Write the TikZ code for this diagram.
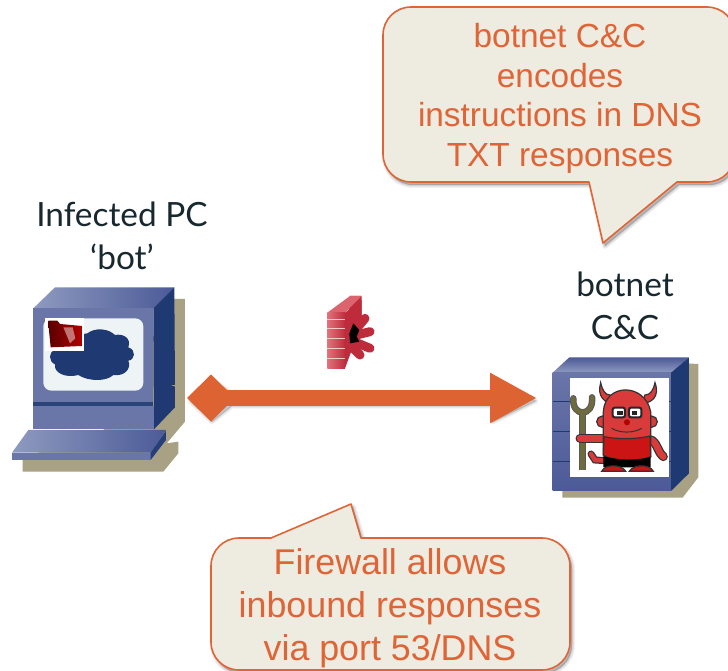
\documentclass[tikz,border=0pt]{standalone}
\usepackage{fontspec}
\setmainfont{Liberation Sans}
\newfontfamily\labelfont{Lato}
\usetikzlibrary{arrows.meta}
\definecolor{cfill}{HTML}{EEEBE0}
\definecolor{cline}{HTML}{DF6436}
\definecolor{ctext}{HTML}{DF6436}
\definecolor{tan}{HTML}{A8A184}
\definecolor{navy}{HTML}{1F3A72}
\definecolor{bluelt}{HTML}{8E9ABF}
\definecolor{bluemid}{HTML}{6A75A8}
\definecolor{bluedk}{HTML}{4C5A98}
\definecolor{screen}{HTML}{EEF3F6}
\definecolor{flow}{HTML}{DD6333}
\definecolor{devil}{HTML}{D93A3A}
\definecolor{shirt}{HTML}{CC1414}
\definecolor{forkc}{HTML}{6E6C3E}
\definecolor{labelc}{HTML}{17282F}
\definecolor{brickl}{HTML}{E2727A}
\definecolor{brickd}{HTML}{BE2C3C}
\def\toppath{(411,7) -- (707,7) .. controls (722.5,7) and (735,19.5) .. (735,35) -- (735,154) .. controls (735,169.5) and (722.5,182) .. (707,182) -- (677,182) -- (603,243) -- (589,182) -- (411,182) .. controls (395.5,182) and (383,169.5) .. (383,154) -- (383,35) .. controls (383,19.5) and (395.5,7) .. (411,7) -- cycle}
\def\botpath{(239,538) -- (271,538) -- (351,504) -- (361,538) -- (542,538) .. controls (557.5,538) and (570,550.5) .. (570,566) -- (570,642) .. controls (570,657.5) and (557.5,670) .. (542,670) -- (239,670) .. controls (223.5,670) and (211,657.5) .. (211,642) -- (211,566) .. controls (211,550.5) and (223.5,538) .. (239,538) -- cycle}
\def\arrowpath{(189,398) -- (211,376) -- (231,391) -- (492,391) -- (492,376) -- (535,398) -- (492,419) -- (492,403) -- (231,403) -- (211,419) -- cycle}
\tikzset{
 callout/.style={fill=cfill,draw=cline,line width=1.6pt,line join=round},
 softshadow/.style={fill=black,draw=black,opacity=.055,line join=round},
 calltext/.style={text=ctext,font=\fontsize{33.4}{39.7}\selectfont,align=center,inner sep=0pt},
 calltextb/.style={text=ctext,font=\fontsize{35.8}{43}\selectfont,align=center,inner sep=0pt},
 pclabel/.style={text=labelc,font=\labelfont\fontsize{33.4}{42.5}\selectfont,align=center,inner sep=0pt},
 flowline/.style={draw=flow,line width=16pt,{Diamond[length=48pt,width=47pt]}-{Triangle[length=47pt,width=47pt]}},
 devilpart/.style={fill=devil,draw=black!80,line width=1.2pt}
}
\begin{document}
\begin{tikzpicture}[x=1pt,y=-1pt]
\useasboundingbox (0,0) rectangle (728,671);
\clip (0,0) rectangle (728,671);
\fill[white] (0,0) rectangle (728,671);
% top callout
\foreach \lw in {6,4,2,0.5} {\path[softshadow,line width=\lw pt,shift={(2,3)}] \toppath;}
\draw[callout] \toppath;
\node[calltext] (topnote) at (560,98.5) {botnet C\&C\\encodes\\instructions in DNS\\TXT responses};
% bottom callout
\foreach \lw in {6,4,2,0.5} {\path[softshadow,line width=\lw pt,shift={(2,3)}] \botpath;}
\draw[callout] \botpath;
\node[calltextb] (botnote) at (390,608) {Firewall allows\\inbound responses\\via port 53/DNS};
% labels
\node[pclabel] (pclabel) at (122,236) {Infected PC\\‘bot’};
\node[pclabel] (cclabel) at (625,306) {botnet\\C\&C};
% PC
\begin{scope}[shift={(0,270)},x=0.3333pt,y=-0.3333pt]
\fill[tan] (520,87) -- (555,87) -- (555,455) -- (500,520) -- (535,515) -- (535,550) -- (490,605) -- (68,605) -- (68,560) -- (300,500) -- cycle;
\shade[left color=bluelt,right color=bluedk] (100,115) -- (165,52) -- (523,52) -- (460,115) -- cycle;
\fill[navy] (460,115) -- (523,52) -- (525,345) -- (512,345) -- (525,350) -- (525,412) -- (462,478) -- cycle;
\fill[bluemid] (100,115) rectangle (460,395);
\fill[navy!85!bluemid] (100,395) -- (460,395) -- (460,408) -- (100,408) -- cycle;
\fill[bluemid] (100,408) rectangle (462,478);
\fill[screen,rounded corners=8pt] (130,145) rectangle (430,362);
\fill[navy] (175,215) .. controls (200,190) and (240,195) .. (262,190) .. controls (285,172) and (325,175) .. (345,195)
  .. controls (370,190) and (395,205) .. (385,232) .. controls (410,240) and (405,270) .. (385,272)
  .. controls (395,295) and (375,320) .. (340,315) .. controls (320,335) and (265,335) .. (235,315)
  .. controls (200,325) and (160,310) .. (165,283) .. controls (145,275) and (145,245) .. (165,240) -- cycle;
\fill[white] (135,145) rectangle (252,243);
\shade[left color=red!35!black,right color=red!70!black] (146,172) -- (146,152) -- (172,152) -- (180,162) -- (246,168) -- (246,228) -- (152,232) -- cycle;
\fill[white,opacity=.45] (190,172) -- (218,172) -- (226,205) -- (210,220) -- cycle;
\shade[left color=bluelt,right color=bluedk] (36,548) -- (85,480) -- (498,480) -- (452,548) -- cycle;
\fill[bluemid] (36,548) rectangle (452,570);
\fill[navy!85!bluedk] (452,548) -- (498,482) -- (498,510) -- (452,570) -- cycle;
\end{scope}
% server
\begin{scope}[shift={(530,340)},x=0.3333pt,y=-0.3333pt]
\fill[tan] (470,70) -- (505,72) -- (505,412) -- (458,473) -- (97,473) -- (97,445) -- cycle;
\shade[top color=bluedk,bottom color=bluelt] (68,98) -- (118,52) -- (477,52) -- (423,98) -- cycle;
\fill[navy] (423,98) -- (477,52) -- (477,400) -- (423,453) -- cycle;
\shade[top color=bluemid,bottom color=bluedk] (68,98) rectangle (423,453);
\foreach \yy in {185,275,365} \draw[navy,line width=.8pt] (68,\yy) -- (423,\yy);
\fill[white] (120,114) rectangle (417,410);
% fork
\draw[black!65,line width=6.5pt,line cap=round] (130,175) .. controls (125,232) and (192,232) .. (186,172);
\draw[forkc,line width=4.5pt,line cap=round] (130,175) .. controls (125,232) and (192,232) .. (186,172);
\draw[black!65,line width=6.5pt] (158,222) -- (158,390);
\draw[forkc,line width=4.5pt] (158,222) -- (158,390);
% horns
\fill[devilpart] (212,128) .. controls (200,170) and (225,190) .. (250,190) -- (240,165) .. controls (225,165) and (217,150) .. cycle;
\fill[devilpart] (375,128) .. controls (390,170) and (365,190) .. (335,190) -- (345,165) .. controls (362,165) and (370,150) .. cycle;
% arms and tail
\draw[black!80,line width=9pt,line cap=round] (225,295) -- (150,295);
\draw[devil,line width=6.5pt,line cap=round] (225,295) -- (150,295);
\draw[black!80,line width=9pt,line cap=round] (365,300) .. controls (385,315) and (385,340) .. (400,350);
\draw[devil,line width=6.5pt,line cap=round] (365,300) .. controls (385,315) and (385,340) .. (400,350);
\draw[black!80,line width=7pt,line cap=round] (225,362) -- (195,360) -- (183,342);
\draw[devil,line width=4.5pt,line cap=round] (225,362) -- (195,360) -- (183,342);
% ears
\fill[devilpart] (217,245) circle[radius=17];
\fill[devilpart] (365,245) circle[radius=17];
% body
\draw[devilpart] (220,345) -- (220,215) .. controls (225,128) and (345,128) .. (362,215) -- (362,350) .. controls (330,365) and (250,365) .. cycle;
\fill[devilpart,fill=shirt] (222,290) .. controls (260,298) and (320,298) .. (360,288) -- (362,350) .. controls (330,365) and (250,365) .. (220,345) -- cycle;
\fill[black] (220,348) .. controls (260,362) and (330,362) .. (362,350) -- (362,382) -- (220,382) -- cycle;
\fill[devilpart,fill=shirt] (215,394) .. controls (225,372) and (275,372) .. (287,394) -- cycle;
\fill[devilpart,fill=shirt] (298,394) .. controls (310,372) and (360,372) .. (370,394) -- cycle;
% eyes
\draw[black!85,fill=white,line width=2pt,rounded corners=2pt] (248,203) rectangle (285,232);
\draw[black!85,fill=white,line width=2pt,rounded corners=2pt] (297,203) rectangle (334,232);
\fill[black!85] (262,212) rectangle (278,226);
\fill[black!85] (305,212) rectangle (320,226);
\fill[red!70!black] (291,247) circle[radius=9];
\draw[black!80,line width=1pt] (245,265) .. controls (270,280) and (310,280) .. (335,265);
\end{scope}
% firewall
\begin{scope}[shift={(300,280)},x=0.3333pt,y=-0.3333pt]
\fill[brickd] (150,48) -- (185,48) -- (185,130) -- (140,150) -- cycle;
\fill[brickl!80!brickd] (82,98) -- (150,48) -- (185,48) -- (135,98) -- cycle;
\shade[left color=brickl,right color=brickd] (82,98) rectangle (135,265);
\foreach \yy in {120,145,175,205,235} \draw[white!60!brickl,line width=1pt] (82,\yy) -- (135,\yy);
\fill[brickd] (135,98) -- (185,60) -- (185,130) -- (135,265) -- cycle;
\draw[brickd,line width=9pt,line cap=round] (150,170) -- (195,115);
\draw[brickd,line width=9pt,line cap=round] (150,170) -- (210,155);
\draw[brickd,line width=9pt,line cap=round] (150,180) -- (210,205);
\draw[brickd,line width=9pt,line cap=round] (145,190) -- (180,225);
\fill[black] (160,130) -- (178,150) -- (170,170) -- (178,185) -- (150,190) -- (148,160) -- cycle;
\end{scope}
% connector
\foreach \lw in {5,3,1} {\path[softshadow,line width=\lw pt,shift={(1,3)}] \arrowpath;}
\coordinate (pcport) at (187,398);
\coordinate (ccport) at (537,398);
\draw[flowline] (pcport) -- (ccport);
\end{tikzpicture}
\end{document}
